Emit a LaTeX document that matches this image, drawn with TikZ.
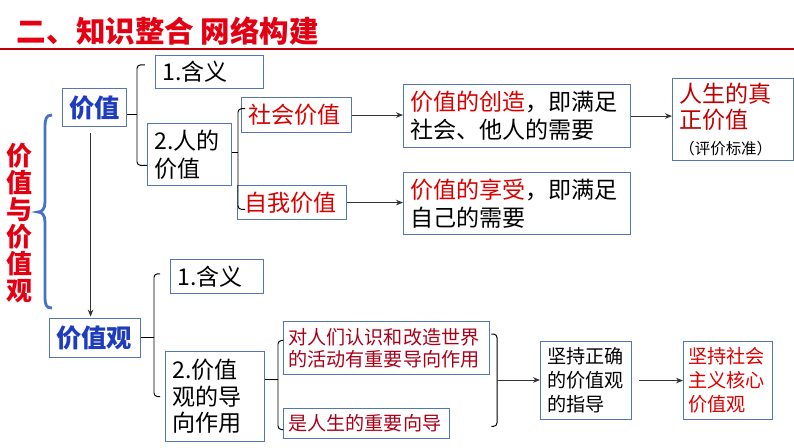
\documentclass[tikz,border=0pt]{standalone}
\usepackage{fontspec}
\setmainfont{Noto Sans CJK SC}
\usetikzlibrary{arrows.meta}
\definecolor{boxblue}{RGB}{84,119,178}
\definecolor{bracecol}{RGB}{68,114,196}
\definecolor{titlered}{RGB}{228,0,18}
\definecolor{linered}{RGB}{192,0,0}
\definecolor{keyblue}{RGB}{30,60,190}
\definecolor{txtred}{RGB}{218,0,0}
\definecolor{darkred}{RGB}{192,0,0}
\definecolor{deepred}{RGB}{168,0,24}
\tikzset{
  card/.style={draw=boxblue,line width=0.8pt,anchor=north west,align=left,
    inner xsep=0.17cm,inner ysep=0pt},
  bracket/.style={line width=0.7pt,rounded corners=2.5pt},
  arrow/.style={line width=0.6pt,draw=black!80,-{Stealth[length=5pt,width=4pt]}},
  big/.style={font=\fontsize{16.4}{20}\selectfont},
  small/.style={font=\fontsize{13.6}{15.6}\selectfont}
}
\begin{document}
\begin{tikzpicture}[x=0.025cm,y=-0.025cm]
\useasboundingbox (0,0) rectangle (794,447);
%title
\node[anchor=west,text=titlered,font=\fontsize{21}{21}\selectfont\bfseries] (title) at (12,31) {二、知识整合 网络构建};
\draw[linered,line width=1.5pt] (0,49) -- (794,49);
%topic
\node[text=titlered,align=center,font=\fontsize{18.5}{19.2}\selectfont\bfseries] (topic) at (20,223) {价\\值\\与\\价\\值\\观};
\draw[bracecol,line width=2pt] (52,115) .. controls (46,115) and (45,119) .. (45,128) -- (45,202)
  .. controls (45,209) and (42,212) .. (38,212) .. controls (42,212) and (45,215) .. (45,222)
  -- (45,296) .. controls (45,305) and (46,308) .. (52,308);
%value
\node[card,text=keyblue,text width=1.26cm,minimum height=0.95cm,font=\fontsize{18}{20}\selectfont\bfseries] (jiazhi) at (62,88) {价值};
\node[card,big,text width=2.36cm,minimum height=0.825cm] (han1) at (155,55) {1.含义};
\node[card,big,text width=1.76cm,minimum height=1.55cm] (rende) at (147,123) {2.人的\\价值};
\node[card,big,text=txtred,text width=2.41cm,minimum height=0.875cm] (shehui) at (241,97) {社会价值};
\node[card,big,text=txtred,text width=2.385cm,minimum height=0.85cm] (ziwo) at (237,185) {自我价值};
\node[card,big,text width=5.335cm,minimum height=1.575cm] (chuangzao) at (403,84) {{\color{txtred}价值的创造}，即满足\\社会、他人的需要};
\node[card,big,text width=5.335cm,minimum height=1.55cm] (xiangshou) at (403,172) {{\color{txtred}价值的享受}，即满足\\自己的需要};
\node[card,text=darkred,text width=2.685cm,minimum height=2.05cm,font=\fontsize{16.4}{18.5}\selectfont] (zhenzheng) at (672,78) {人生的真\\正价值\\{\color{black}\fontsize{11}{12}\selectfont（评价标准）}};
\coordinate (b1) at (137,114);
\draw[bracket] (jiazhi.east |- b1) -- (b1);
\draw[bracket] ([xshift=-0.25cm,yshift=0.18cm]han1.west) -| (b1) |- ([yshift=-0.27cm]rende.west);
\coordinate (b2) at (238,152);
\draw[bracket] (rende.east |- b2) -- (b2);
\draw[bracket] ([xshift=0.1cm,yshift=0.16cm]shehui.west) -| (b2) |- ([xshift=0.2cm,yshift=-0.17cm]ziwo.west);
\draw[arrow] (shehui.east) -- (chuangzao.west |- shehui.east);
\draw[arrow] (ziwo.east) -- (xiangshou.west |- ziwo.east);
\draw[arrow] (chuangzao.east) -- (zhenzheng.west |- chuangzao.east);
%values
\node[card,text=keyblue,text width=1.935cm,minimum height=0.975cm,font=\fontsize{18}{20}\selectfont\bfseries] (jzg) at (49,318) {价值观};
\draw[arrow,shorten <=0.15cm,shorten >=1pt] ([xshift=-0.1cm]jiazhi.south) -- ([xshift=-0.1cm]jiazhi.south |- jzg.north);
\node[card,big,text width=1.985cm,minimum height=0.85cm] (han2) at (170,259) {1.含义};
\node[card,text width=2.135cm,minimum height=2.25cm,font=\fontsize{16.4}{18.8}\selectfont] (daoxiang) at (165,351) {2.价值\\观的导\\向作用};
\node[card,small,text=deepred,inner xsep=0.12cm,text width=4.91cm,minimum height=1.325cm] (renshi) at (283,321) {对人们认识和改造世界\\的活动有重要导向作用};
\node[card,small,text=deepred,inner xsep=0.12cm,text width=3.91cm,minimum height=0.75cm] (xiangdao) at (283,408) {是人生的重要向导};
\node[card,text width=1.935cm,minimum height=1.95cm,font=\fontsize{13.6}{17}\selectfont] (zhidao) at (540,341) {坚持正确\\的价值观\\的指导};
\node[card,text=txtred,inner xsep=0.12cm,text width=1.985cm,minimum height=1.95cm,font=\fontsize{13.6}{17}\selectfont] (hexin) at (683,341) {坚持社会\\主义核心\\价值观};
\coordinate (b3) at (154,337.5);
\draw[bracket] (jzg.east |- b3) -- (b3);
\draw[bracket] ([xshift=-0.25cm,yshift=0.07cm]han2.west) -| (b3) |- ([xshift=-0.125cm]daoxiang.west);
\coordinate (b4) at (278,379);
\draw[bracket] (daoxiang.east |- b4) -- (b4);
\draw[bracket] ([yshift=0.19cm]renshi.west) -| (b4) |- ([yshift=-0.15cm]xiangdao.west);
\coordinate (b5) at (497,380);
\draw[bracket] ([xshift=0.03cm,yshift=0.35cm]renshi.east) -| (b5) |- ([xshift=1.03cm,yshift=-0.07cm]xiangdao.east);
\draw[arrow] (b5) -- (zhidao.west |- b5);
\draw[arrow,shorten <=0.18cm] (zhidao.east) -- (hexin.west);
\end{tikzpicture}
\end{document}
